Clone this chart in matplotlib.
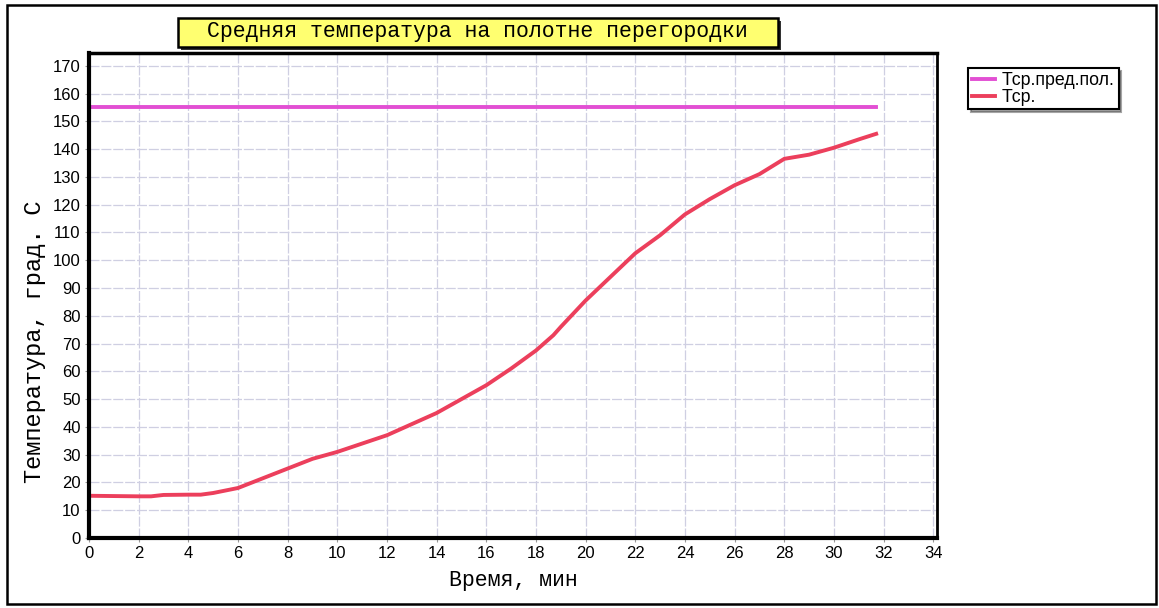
import matplotlib.pyplot as plt
from matplotlib.patches import Rectangle

# Tср.пред.пол. (limit value)
t_lim = [0, 8, 16, 24, 31.7]
T_lim = [155, 155, 155, 155, 155]

# Tср. (mean temperature)
t_avg = [0, 1, 2, 2.5, 3, 4, 4.5, 5, 6, 7, 8, 9, 10, 11, 12, 13, 14, 15, 16,
         17, 18, 18.7, 19, 20, 21, 22, 23, 24, 25, 26, 27, 28, 29, 30, 31, 31.7]
T_avg = [15.2, 15.1, 15.0, 15.0, 15.5, 15.6, 15.6, 16.2, 18, 21.5, 25, 28.5,
         31, 34, 37, 41, 45, 50, 55, 61, 67.5, 73, 76, 85.5, 94, 102.5, 109,
         116.5, 122, 127, 131, 136.5, 138, 140.5, 143.5, 145.5]

xticks = list(range(0, 35, 2))
yticks = list(range(0, 171, 10))

W, H = 1159, 608
fig = plt.figure(figsize=(W/100, H/100), dpi=100)
ax = fig.add_axes([89/W, 1-538/H, (937-89)/W, (538-53)/H])

ax.plot(t_lim, T_lim, color='#e24fd3', lw=2.8, label='Tср.пред.пол.')
ax.plot(t_avg, T_avg, color='#ec3f5c', lw=2.8, label='Tср.')

ax.set_xlim(0, 34.15)
ax.set_ylim(0, 174.6)
ax.set_xticks(xticks)
ax.set_yticks(yticks)
ax.grid(True, color='#cfcfe2', lw=0.9, ls=(0, (8, 1.5)))
ax.set_axisbelow(True)
ax.tick_params(labelsize=12, length=3, color='#999999', pad=3)
for lab in ax.get_xticklabels() + ax.get_yticklabels():
    lab.set_family('Liberation Sans')

for side, w in [('left', 3), ('top', 2.5), ('bottom', 3), ('right', 2)]:
    ax.spines[side].set_linewidth(w)
    ax.spines[side].set_color('black')

ax.set_xlabel('Время, мин', family='Liberation Mono', fontsize=15.5, labelpad=6)
ax.set_ylabel('Температура, град. С', family='Liberation Mono', fontsize=17)
ax.yaxis.set_label_coords(-0.051, (538-342)/(538-53))

# title box with a small shadow
fig.patches.append(Rectangle((181/W, 1-50/H), 600/W, 29/H, transform=fig.transFigure,
                             fc='#333333', ec='none'))
fig.patches.append(Rectangle((178/W, 1-47/H), 600/W, 29/H, transform=fig.transFigure,
                             fc='#ffff70', ec='black', lw=1.8))
fig.text(477/W, 1-32/H, 'Средняя температура на полотне перегородки',
         family='Liberation Mono', fontsize=15.5, ha='center', va='center')

# legend
leg = fig.legend(loc='upper left', bbox_to_anchor=(963/W, 1-63/H),
                 prop={'family': 'Liberation Sans', 'size': 12.8},
                 handlelength=1.3, handletextpad=0.4, labelspacing=0.0,
                 borderpad=0.2, borderaxespad=0.3, fancybox=False, shadow=True,
                 framealpha=1)
leg.get_frame().set_edgecolor('black')
leg.get_frame().set_linewidth(1.5)

# outer frame
fig.patches.append(Rectangle((7/W, 1-604/H), 1149/W, 599/H,
                             transform=fig.transFigure, fill=False,
                             ec='black', lw=1.8))

fig.savefig('out.png', dpi=100)
